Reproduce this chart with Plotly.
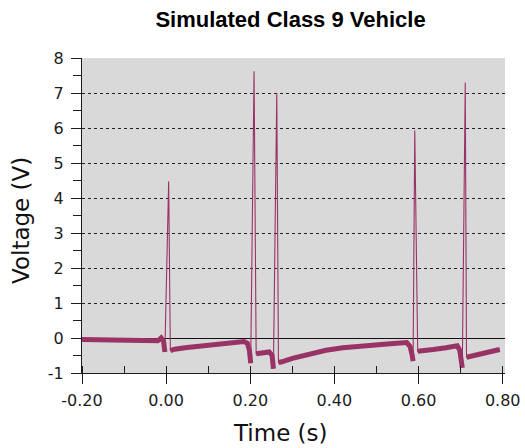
import plotly.graph_objects as go

# ---- data ----
time_s = [
    -0.200, -0.150, -0.100, -0.050, -0.020, -0.012, -0.006, -0.003,
    0.006, 0.010,
    0.020, 0.050, 0.100, 0.150, 0.185, 0.193, 0.198, 0.201,
    0.209, 0.214,
    0.230, 0.245, 0.252, 0.255,
    0.263, 0.267,
    0.275, 0.300, 0.340, 0.380, 0.420, 0.460, 0.500, 0.540, 0.572, 0.580, 0.585, 0.587,
    0.591, 0.598,
    0.610, 0.635, 0.665, 0.692, 0.698, 0.702, 0.704,
    0.711, 0.714,
    0.720, 0.745, 0.775, 0.793,
]
voltage_v = [
    -0.04, -0.06, -0.07, -0.08, -0.08, 0.00, -0.10, -0.40,
    4.48, -0.36,
    -0.32, -0.27, -0.20, -0.14, -0.10, -0.15, -0.35, -0.72,
    7.62, -0.45,
    -0.42, -0.40, -0.50, -0.88,
    7.01, -0.70,
    -0.68, -0.58, -0.45, -0.35, -0.28, -0.23, -0.19, -0.16, -0.13, -0.25, -0.50, -0.66,
    5.93, -0.38,
    -0.37, -0.33, -0.28, -0.22, -0.35, -0.60, -0.85,
    7.30, -0.55,
    -0.53, -0.45, -0.38, -0.33,
]

x_tick_vals = [-0.2, 0.0, 0.2, 0.4, 0.6, 0.8]
x_tick_text = ["-0.20", "0.00", "0.20", "0.40", "0.60", "0.80"]
y_tick_vals = [-1, 0, 1, 2, 3, 4, 5, 6, 7, 8]
y_tick_text = ["-1", "0", "1", "2", "3", "4", "5", "6", "7", "8"]

title_text = "Simulated Class 9 Vehicle"
x_title = "Time (s)"
y_title = "Voltage (V)"

LINE = "#993366"
AX = "#1c1c1c"
X_RANGE = [-0.2, 0.8055]
Y_RANGE = [-1, 8]

# baseline (noisy band) drawn thick, spikes left out
base_v = [v if v < 0.5 else None for v in voltage_v]

fig = go.Figure()
fig.add_trace(go.Scatter(x=time_s, y=voltage_v, mode="lines",
                         line=dict(color=LINE, width=1.1), hoverinfo="skip"))
fig.add_trace(go.Scatter(x=time_s, y=base_v, mode="lines", connectgaps=False,
                         line=dict(color=LINE, width=5), hoverinfo="skip"))

tickfont = dict(family="DejaVu Sans", size=16, color=AX)

fig.update_layout(
    width=525, height=448, autosize=False,
    margin=dict(l=82, r=20, t=58, b=75, autoexpand=False),
    paper_bgcolor="white", plot_bgcolor="#d9d9d9",
    showlegend=False,
    title=dict(text="<b>" + title_text + "</b>", x=0.493, xref="paper",
               xanchor="center", y=1 - 19.5 / 448, yref="container", yanchor="middle",
               font=dict(family="Liberation Sans, Arial", size=22, color="black")),
    xaxis=dict(range=X_RANGE, tickvals=x_tick_vals, ticktext=x_tick_text,
               automargin=False, ticklabelstandoff=3,
               ticks="outside", ticklen=10, tickwidth=1.3, tickcolor=AX,
               showline=True, linecolor=AX, linewidth=1.3,
               showgrid=False, zeroline=False, tickfont=tickfont,
               minor=dict(ticks="inside", ticklen=7, tickwidth=1.3, tickcolor=AX,
                          dtick=0.1, tick0=-0.2, showgrid=False)),
    yaxis=dict(range=Y_RANGE, tickvals=y_tick_vals, ticktext=y_tick_text,
               automargin=False,
               ticks="outside", ticklen=10, tickwidth=1.3, tickcolor=AX,
               showline=True, linecolor=AX, linewidth=1.3,
               showgrid=True, gridcolor="#222222", gridwidth=1, griddash="3px,3px",
               zeroline=True, zerolinecolor="#111111", zerolinewidth=1.2,
               tickfont=tickfont, ticklabelstandoff=4,
               minor=dict(ticks="outside", ticklen=8, tickwidth=1.3, tickcolor=AX,
                          dtick=0.5, tick0=-0.5, showgrid=False)),
    xaxis2=dict(range=X_RANGE, overlaying="x", anchor="y", side="bottom",
                automargin=False,
                tickvals=x_tick_vals, ticks="inside", ticklen=11, tickwidth=1.3,
                tickcolor=AX, showticklabels=False, showline=False,
                showgrid=False, zeroline=False),
    yaxis2=dict(range=Y_RANGE, overlaying="y", anchor="x", side="left",
                automargin=False,
                tickvals=y_tick_vals, ticks="inside", ticklen=8, tickwidth=1.3,
                tickcolor=AX, showticklabels=False, showline=False,
                showgrid=False, zeroline=False),
    annotations=[
        dict(text=x_title, xref="paper", yref="paper", x=(280 - 82) / 423,
             y=-(433 - 373) / 315, xanchor="center", yanchor="middle",
             showarrow=False, font=dict(family="DejaVu Sans", size=23, color="#111111")),
        dict(text=y_title, xref="paper", yref="paper", x=(21 - 82) / 423,
             y=(373 - 220) / 315, xanchor="center", yanchor="middle", textangle=-90,
             showarrow=False, font=dict(family="DejaVu Sans", size=23, color="#111111")),
    ],
)

fig.write_html("out.html", config={"displayModeBar": False},
               post_script="document.body.style.margin='0';")
